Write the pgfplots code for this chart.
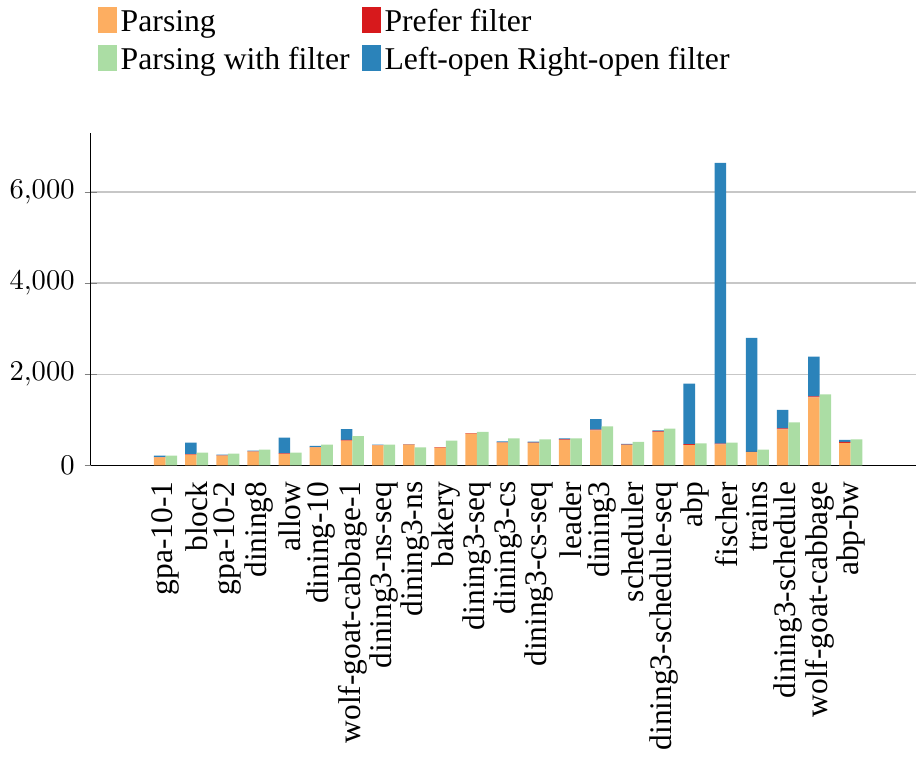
\documentclass[border=0pt]{standalone}
\usepackage{fontspec}
\setmainfont{Liberation Serif}
\usepackage{pgfplots}
\usepackage{pgfplotstable}
\pgfplotsset{compat=1.18}
\definecolor{cOrange}{HTML}{FDAE61}
\definecolor{cRed}{HTML}{D7191C}
\definecolor{cGreen}{HTML}{ABDDA4}
\definecolor{cBlue}{HTML}{2B83BA}
\pgfplotstableread{
x parsing prefer loro filt
0 180 5 30 215
1 240 10 250 283
2 215 5 20 262
3 305 5 17 350
4 255 10 345 283
5 400 5 25 458
6 545 15 240 647
7 443 5 10 458
8 458 5 7 400
9 392 10 0 545
10 698 15 0 741
11 502 8 20 596
12 495 8 21 575
13 560 15 21 596
14 771 15 232 858
15 451 8 14 516
16 735 15 21 807
17 451 20 1325 487
18 465 15 6167 502
19 291 10 2499 349
20 793 22 407 945
21 1498 22 873 1564
22 495 21 44 575
}\datatable
\pgfplotsset{sq/.style={legend image code/.code={\fill[#1] (0pt,-3.2pt) rectangle (6pt,5.3pt);}},
  common/.style={scale only axis, width=289pt, height=116.4pt, xmin=-2.4, xmax=24.1, ymin=0, ymax=7300, bar width=0.37}}
\begin{document}
\begin{tikzpicture}
\begin{axis}[
  common,
  ybar stacked,
  axis x line=bottom, axis y line=left,
  axis line style={-},
  xtick={0,...,22},
  xticklabels={gpa-10-1,block,gpa-10-2,dining8,allow,dining-10,wolf-goat-cabbage-1,dining3-ns-seq,dining3-ns,bakery,dining3-seq,dining3-cs,dining3-cs-seq,leader,dining3,scheduler,dining3-schedule-seq,abp,fischer,trains,dining3-schedule,wolf-goat-cabbage,abp-bw},
  x tick label style={rotate=90, anchor=east, font=\fontsize{11}{12}\selectfont},
  major x tick style={draw=none},
  ytick={0,2000,4000,6000},
  ymajorgrids,
  grid style={black!22, line width=0.6pt},
  legend columns=2,
  legend cell align=left,
  legend style={draw=none, fill=none, at={(axis description cs:0,1)}, anchor=south west, xshift=2.5pt, yshift=17pt,
    font=\fontsize{11.1}{12}\selectfont, inner xsep=0pt, inner ysep=1.5pt,
    nodes={text height=8.7pt, text depth=2.5pt, inner ysep=1pt, inner xsep=1.4pt},
    /tikz/every even column/.append style={column sep=3pt}},
]
\addlegendimage{sq=cOrange}\addlegendentry{Parsing}
\addlegendimage{sq=cRed}\addlegendentry{Prefer filter}
\addlegendimage{sq=cGreen}\addlegendentry{Parsing with filter}
\addlegendimage{sq=cBlue}\addlegendentry{Left-open Right-open filter}
\addplot[fill=cOrange, draw=none, bar shift=-0.185, forget plot] table[x=x, y=parsing] {\datatable};
\addplot[fill=cRed, draw=none, bar shift=-0.185, forget plot] table[x=x, y=prefer] {\datatable};
\addplot[fill=cBlue, draw=none, bar shift=-0.185, forget plot] table[x=x, y=loro] {\datatable};
\end{axis}
\begin{axis}[common, ybar, hide axis]
\addplot[fill=cGreen, draw=none, bar shift=0.185] table[x=x, y=filt] {\datatable};
\end{axis}
\end{tikzpicture}
\end{document}
